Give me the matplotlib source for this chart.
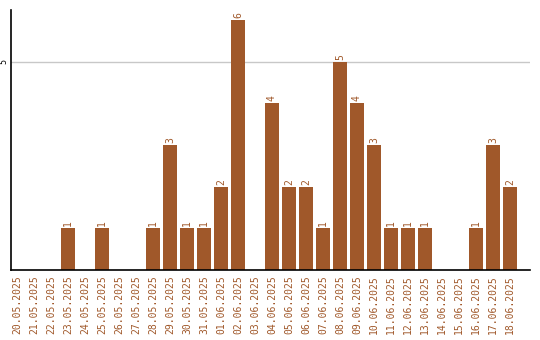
import matplotlib
matplotlib.use("Agg")
import matplotlib.pyplot as plt

dates = ["20.05.2025", "21.05.2025", "22.05.2025", "23.05.2025", "24.05.2025",
         "25.05.2025", "26.05.2025", "27.05.2025", "28.05.2025", "29.05.2025",
         "30.05.2025", "31.05.2025", "01.06.2025", "02.06.2025", "03.06.2025",
         "04.06.2025", "05.06.2025", "06.06.2025", "07.06.2025", "08.06.2025",
         "09.06.2025", "10.06.2025", "11.06.2025", "12.06.2025", "13.06.2025",
         "14.06.2025", "15.06.2025", "16.06.2025", "17.06.2025", "18.06.2025"]
counts = [0, 0, 0, 1, 0, 1, 0, 0, 1, 3, 1, 1, 2, 6, 0,
          4, 2, 2, 1, 5, 4, 3, 1, 1, 1, 0, 0, 1, 3, 2]

color = "#a0582a"

fig = plt.figure(figsize=(5.4, 3.4), dpi=100)
ax = fig.add_axes([11 / 540, 70 / 340, 519 / 540, 260 / 340])

x = list(range(len(dates)))
ax.bar(x, counts, width=0.82, color=color, zorder=2)

# etichette sopra le barre (solo valori > 0)
for i, v in zip(x, counts):
    if v > 0:
        ax.text(i, v + 0.05, str(v), rotation=90, ha="center", va="bottom",
                color=color, fontsize=7, family="DejaVu Sans Mono")

ax.set_xlim(-0.35, len(dates) - 1 + 1.18)
ax.set_ylim(0, 6.24)
ax.set_yticks([5])
ax.set_yticklabels(["5"], rotation=90, va="center", fontsize=6,
                   family="DejaVu Sans Mono")
ax.axhline(5, color="#c8c8c8", lw=1, zorder=1)

ax.set_xticks(x)
ax.set_xticklabels(dates, rotation=90, fontsize=7, color=color,
                   family="DejaVu Sans Mono")
ax.tick_params(axis="both", length=0, pad=4)
ax.tick_params(axis="y", pad=2)

for s in ["top", "right"]:
    ax.spines[s].set_visible(False)
ax.spines["left"].set_linewidth(1.2)
ax.spines["bottom"].set_linewidth(1.2)

fig.savefig("out.png", dpi=100)
